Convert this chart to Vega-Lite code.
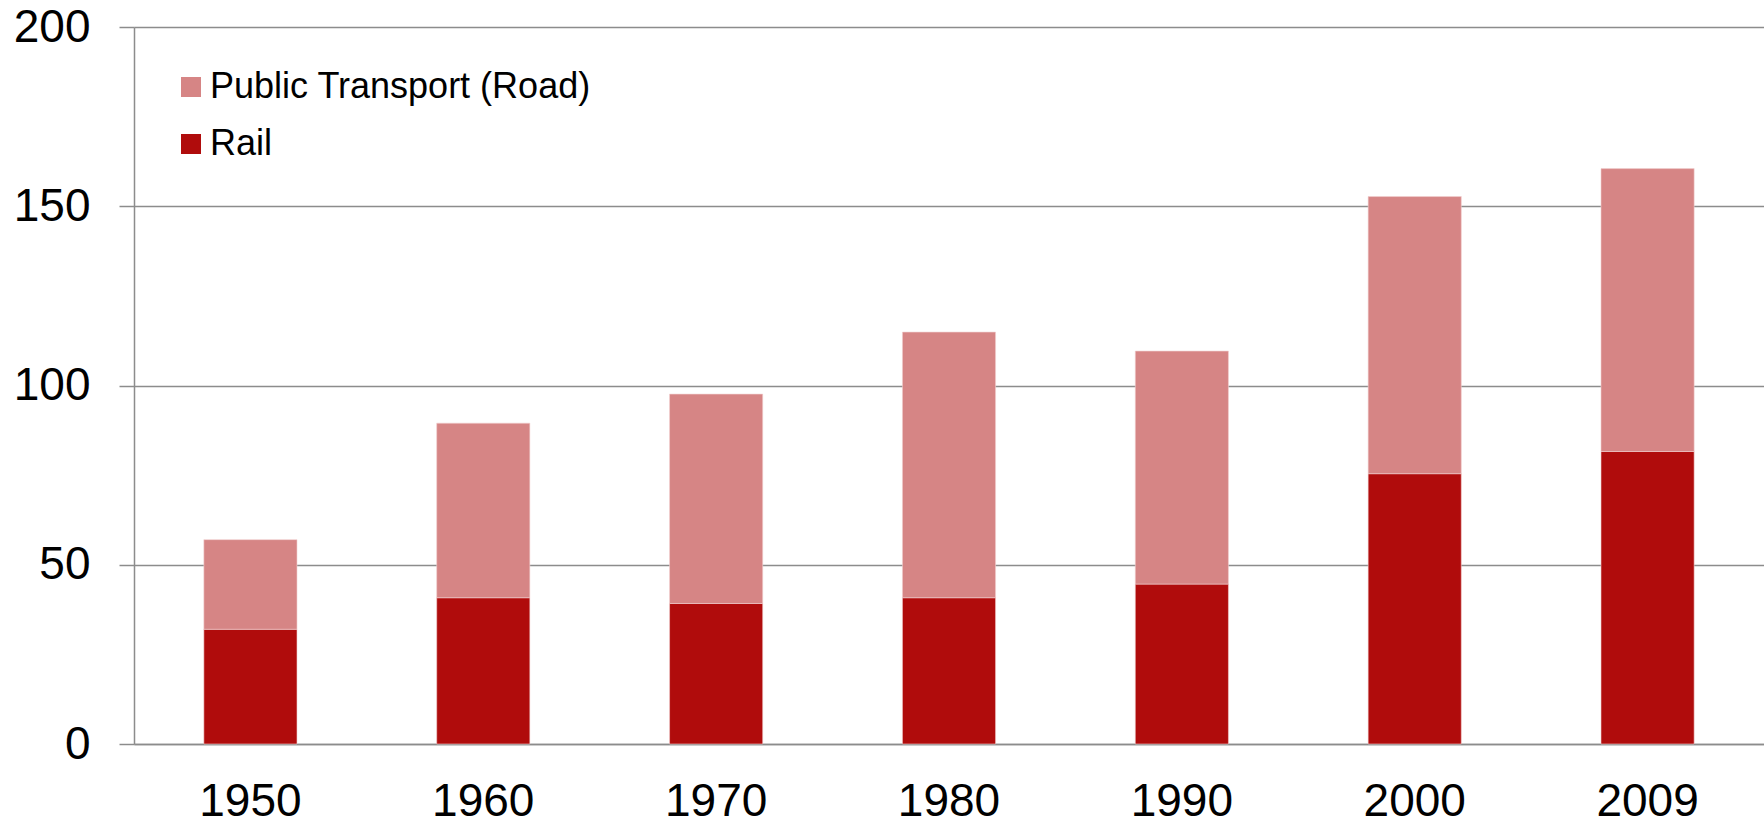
{
  "$schema": "https://vega.github.io/schema/vega-lite/v6.json",
  "autosize": {"type": "none"},
  "padding": {"left": 134, "top": 27, "right": 0, "bottom": 79},
  "width": 1630,
  "height": 717,
  "background": "white",
  "config": {
    "font": "Liberation Sans",
    "view": {"stroke": null}
  },
  "data": {
    "values": [
      {"year": "1950", "type": "Rail", "value": 32},
      {"year": "1950", "type": "Public Transport (Road)", "value": 25},
      {"year": "1960", "type": "Rail", "value": 40.8},
      {"year": "1960", "type": "Public Transport (Road)", "value": 48.7},
      {"year": "1970", "type": "Rail", "value": 39.2},
      {"year": "1970", "type": "Public Transport (Road)", "value": 58.4},
      {"year": "1980", "type": "Rail", "value": 40.8},
      {"year": "1980", "type": "Public Transport (Road)", "value": 74.1},
      {"year": "1990", "type": "Rail", "value": 44.6},
      {"year": "1990", "type": "Public Transport (Road)", "value": 65},
      {"year": "2000", "type": "Rail", "value": 75.4},
      {"year": "2000", "type": "Public Transport (Road)", "value": 77.3},
      {"year": "2009", "type": "Rail", "value": 81.6},
      {"year": "2009", "type": "Public Transport (Road)", "value": 78.9}
    ]
  },
  "mark": {"type": "bar", "stroke": "#f2d0d0", "strokeWidth": 0.6},
  "encoding": {
    "x": {
      "field": "year",
      "type": "ordinal",
      "scale": {"paddingInner": 0.6, "paddingOuter": 0.3},
      "axis": {
        "title": null,
        "labelAngle": 0,
        "labelFontSize": 46,
        "labelColor": "black",
        "labelPadding": 35,
        "ticks": false,
        "domainColor": "#8c8c8c",
        "domainWidth": 1.5,
        "grid": false
      }
    },
    "y": {
      "field": "value",
      "type": "quantitative",
      "stack": "zero",
      "scale": {"domain": [0, 200], "nice": false},
      "axis": {
        "title": null,
        "values": [0, 50, 100, 150, 200],
        "labelFontSize": 46,
        "labelColor": "black",
        "labelPadding": 29,
        "tickSize": 15,
        "tickColor": "#8c8c8c",
        "tickWidth": 1.5,
        "domainColor": "#8c8c8c",
        "domainWidth": 1.5,
        "gridColor": "#8c8c8c",
        "gridWidth": 1.5,
        "grid": true
      }
    },
    "color": {
      "field": "type",
      "type": "nominal",
      "scale": {
        "domain": ["Public Transport (Road)", "Rail"],
        "range": ["#d68585", "#b00c0c"]
      },
      "legend": {
        "title": null,
        "orient": "none",
        "legendX": 39,
        "legendY": 42,
        "symbolType": "square",
        "symbolSize": 400,
        "symbolStrokeWidth": 0,
        "labelFontSize": 36,
        "labelLimit": 0,
        "labelColor": "black",
        "labelOffset": 1,
        "rowPadding": 21
      }
    },
    "order": {"field": "type", "sort": "descending"}
  }
}
